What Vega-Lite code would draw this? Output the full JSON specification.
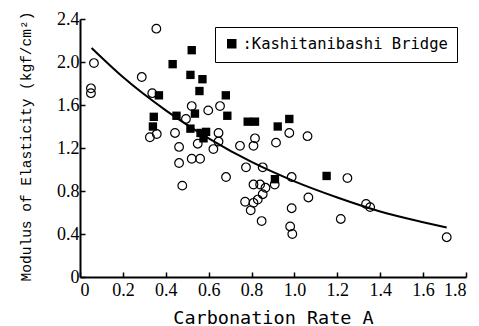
{
  "$schema": "https://vega.github.io/schema/vega-lite/v6.json",
  "autosize": {"type": "none"},
  "padding": {"left": 80, "top": 19, "right": 13, "bottom": 49},
  "width": 386,
  "height": 258,
  "background": "white",
  "config": {
    "view": {"stroke": null},
    "axis": {
      "grid": false,
      "domainColor": "black",
      "domainWidth": 2,
      "tickColor": "black",
      "tickWidth": 1.5,
      "tickSize": -5,
      "labelFont": "Liberation Serif",
      "labelFontSize": 18,
      "labelColor": "black",
      "titleColor": "black",
      "titleFontWeight": "normal"
    }
  },
  "datasets": {
    "obs": [
      {"x": 0.344, "y": 1.49, "s": "Kashitanibashi Bridge"},
      {"x": 0.34, "y": 1.40, "s": "Kashitanibashi Bridge"},
      {"x": 0.368, "y": 1.69, "s": "Kashitanibashi Bridge"},
      {"x": 0.432, "y": 1.98, "s": "Kashitanibashi Bridge"},
      {"x": 0.45, "y": 1.50, "s": "Kashitanibashi Bridge"},
      {"x": 0.521, "y": 2.11, "s": "Kashitanibashi Bridge"},
      {"x": 0.515, "y": 1.88, "s": "Kashitanibashi Bridge"},
      {"x": 0.571, "y": 1.84, "s": "Kashitanibashi Bridge"},
      {"x": 0.557, "y": 1.73, "s": "Kashitanibashi Bridge"},
      {"x": 0.536, "y": 1.52, "s": "Kashitanibashi Bridge"},
      {"x": 0.515, "y": 1.38, "s": "Kashitanibashi Bridge"},
      {"x": 0.562, "y": 1.34, "s": "Kashitanibashi Bridge"},
      {"x": 0.588, "y": 1.35, "s": "Kashitanibashi Bridge"},
      {"x": 0.576, "y": 1.29, "s": "Kashitanibashi Bridge"},
      {"x": 0.68, "y": 1.69, "s": "Kashitanibashi Bridge"},
      {"x": 0.687, "y": 1.50, "s": "Kashitanibashi Bridge"},
      {"x": 0.782, "y": 1.445, "s": "Kashitanibashi Bridge"},
      {"x": 0.816, "y": 1.445, "s": "Kashitanibashi Bridge"},
      {"x": 0.922, "y": 1.40, "s": "Kashitanibashi Bridge"},
      {"x": 0.976, "y": 1.47, "s": "Kashitanibashi Bridge"},
      {"x": 0.909, "y": 0.91, "s": "Kashitanibashi Bridge"},
      {"x": 1.15, "y": 0.94, "s": "Kashitanibashi Bridge"},
      {"x": 0.051, "y": 1.755, "s": "other"},
      {"x": 0.051, "y": 1.71, "s": "other"},
      {"x": 0.065, "y": 1.99, "s": "other"},
      {"x": 0.356, "y": 2.31, "s": "other"},
      {"x": 0.288, "y": 1.86, "s": "other"},
      {"x": 0.337, "y": 1.71, "s": "other"},
      {"x": 0.326, "y": 1.30, "s": "other"},
      {"x": 0.358, "y": 1.33, "s": "other"},
      {"x": 0.443, "y": 1.34, "s": "other"},
      {"x": 0.462, "y": 1.21, "s": "other"},
      {"x": 0.462, "y": 1.06, "s": "other"},
      {"x": 0.477, "y": 0.85, "s": "other"},
      {"x": 0.494, "y": 1.47, "s": "other"},
      {"x": 0.521, "y": 1.59, "s": "other"},
      {"x": 0.598, "y": 1.55, "s": "other"},
      {"x": 0.653, "y": 1.59, "s": "other"},
      {"x": 0.549, "y": 1.24, "s": "other"},
      {"x": 0.521, "y": 1.10, "s": "other"},
      {"x": 0.560, "y": 1.10, "s": "other"},
      {"x": 0.622, "y": 1.19, "s": "other"},
      {"x": 0.646, "y": 1.26, "s": "other"},
      {"x": 0.646, "y": 1.34, "s": "other"},
      {"x": 0.681, "y": 0.93, "s": "other"},
      {"x": 0.746, "y": 1.22, "s": "other"},
      {"x": 0.809, "y": 1.22, "s": "other"},
      {"x": 0.816, "y": 1.29, "s": "other"},
      {"x": 0.976, "y": 1.34, "s": "other"},
      {"x": 1.061, "y": 1.31, "s": "other"},
      {"x": 0.914, "y": 1.25, "s": "other"},
      {"x": 0.774, "y": 1.02, "s": "other"},
      {"x": 0.852, "y": 1.02, "s": "other"},
      {"x": 0.987, "y": 0.93, "s": "other"},
      {"x": 0.809, "y": 0.86, "s": "other"},
      {"x": 0.84, "y": 0.86, "s": "other"},
      {"x": 0.865, "y": 0.83, "s": "other"},
      {"x": 0.852, "y": 0.77, "s": "other"},
      {"x": 0.77, "y": 0.70, "s": "other"},
      {"x": 0.809, "y": 0.69, "s": "other"},
      {"x": 0.829, "y": 0.72, "s": "other"},
      {"x": 0.796, "y": 0.62, "s": "other"},
      {"x": 0.847, "y": 0.52, "s": "other"},
      {"x": 0.987, "y": 0.64, "s": "other"},
      {"x": 0.98, "y": 0.47, "s": "other"},
      {"x": 0.99, "y": 0.40, "s": "other"},
      {"x": 1.065, "y": 0.74, "s": "other"},
      {"x": 0.908, "y": 0.86, "s": "other"},
      {"x": 1.247, "y": 0.92, "s": "other"},
      {"x": 1.216, "y": 0.54, "s": "other"},
      {"x": 1.334, "y": 0.68, "s": "other"},
      {"x": 1.353, "y": 0.65, "s": "other"},
      {"x": 1.71, "y": 0.37, "s": "other"}
    ],
    "fit": [
      {"x": 0.054, "y": 2.13},
      {"x": 0.2, "y": 1.86},
      {"x": 0.4, "y": 1.55},
      {"x": 0.6, "y": 1.29},
      {"x": 0.8, "y": 1.07},
      {"x": 1.0, "y": 0.89},
      {"x": 1.2, "y": 0.74},
      {"x": 1.4, "y": 0.61},
      {"x": 1.6, "y": 0.51},
      {"x": 1.71, "y": 0.46}
    ]
  },
  "encoding": {
    "x": {
      "field": "x", "type": "quantitative",
      "scale": {"domain": [0, 1.8], "nice": false, "zero": false},
      "axis": {
        "values": [0, 0.2, 0.4, 0.6, 0.8, 1.0, 1.2, 1.4, 1.6, 1.8],
        "labelExpr": "datum.value == 0 ? '0' : format(datum.value, '.1f')",
        "labelPadding": 9,
        "title": "Carbonation Rate A",
        "titleFont": "DejaVu Sans Mono",
        "titleFontSize": 18.5,
        "titleBaseline": "alphabetic",
        "titleY": 46
      }
    },
    "y": {
      "field": "y", "type": "quantitative",
      "scale": {"domain": [0, 2.4], "nice": false},
      "axis": {
        "values": [0, 0.4, 0.8, 1.2, 1.6, 2.0, 2.4],
        "labelExpr": "datum.value == 0 ? '0' : format(datum.value, '.1f')",
        "labelPadding": 6,
        "title": "Modulus of Elasticity (kgf/cm²)",
        "titleFont": "Liberation Mono",
        "titleFontSize": 14.5,
        "titleBaseline": "alphabetic",
        "titleX": -50,
        "titleY": 127
      }
    }
  },
  "layer": [
    {
      "data": {"name": "fit"},
      "mark": {"type": "line", "color": "black", "strokeWidth": 2, "interpolate": "monotone"},
      "encoding": {}
    },
    {
      "data": {"name": "obs"},
      "transform": [{"filter": "datum.s == 'other'"}],
      "mark": {"type": "point", "shape": "circle", "filled": false, "stroke": "black", "strokeWidth": 1.2, "size": 75, "opacity": 1}
    },
    {
      "data": {"name": "obs"},
      "transform": [{"filter": "datum.s != 'other'"}],
      "mark": {"type": "point", "shape": "square", "filled": true, "fill": "black", "size": 70, "opacity": 1},
      "encoding": {
        "shape": {
          "field": "s", "type": "nominal",
          "scale": {"domain": ["Kashitanibashi Bridge"], "range": ["square"]},
          "legend": {
            "orient": "none",
            "legendX": 135,
            "legendY": 8,
            "title": null,
            "strokeColor": "black",
            "padding": 9,
            "labelFont": "DejaVu Sans Mono",
            "labelFontSize": 15.5,
            "labelColor": "black",
            "labelOffset": 3,
            "labelExpr": "':' + datum.label + '  '",
            "symbolFillColor": "black",
            "symbolStrokeWidth": 0,
            "symbolSize": 90,
            "labelLimit": 400,
            "encode": {"legend": {"update": {"strokeWidth": {"value": 2}}}}
          }
        }
      }
    }
  ]
}
